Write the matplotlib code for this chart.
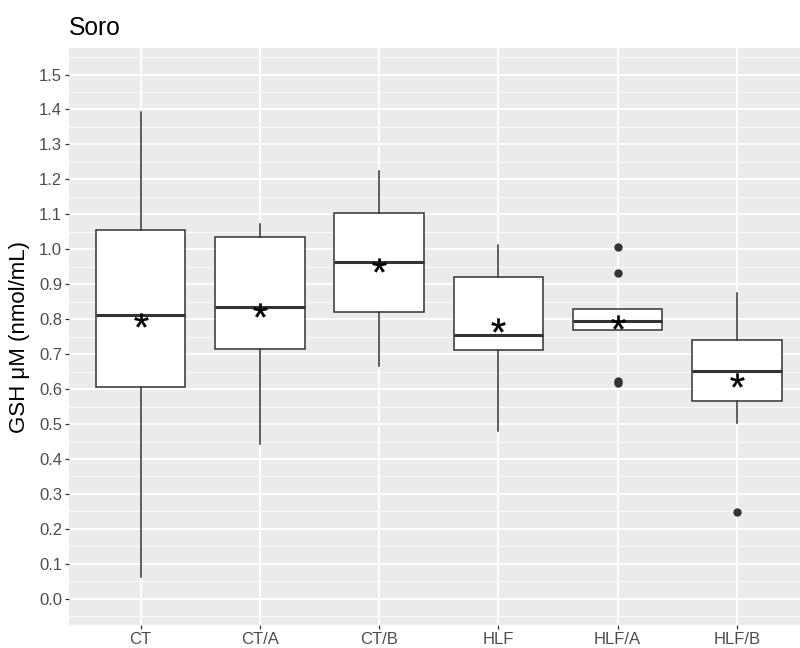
import matplotlib
matplotlib.use("Agg")
import matplotlib.pyplot as plt
from matplotlib.ticker import MultipleLocator

plt.rcParams['font.family'] = ['Liberation Sans', 'DejaVu Sans']
plt.rcParams['mathtext.fontset'] = 'custom'
plt.rcParams['mathtext.rm'] = 'Liberation Sans'

# box statistics
groups = ['CT', 'CT/A', 'CT/B', 'HLF', 'HLF/A', 'HLF/B']
whislo = [0.061, 0.443, 0.667, 0.481, 0.769, 0.504]
q1 = [0.605, 0.716, 0.821, 0.711, 0.769, 0.567]
med = [0.811, 0.835, 0.964, 0.755, 0.794, 0.651]
q3 = [1.054, 1.034, 1.105, 0.921, 0.830, 0.741]
whishi = [1.392, 1.072, 1.224, 1.011, 0.830, 0.876]
means = [0.799, 0.827, 0.954, 0.784, 0.791, 0.627]
fliers = [[], [], [], [], [1.006, 0.933, 0.624, 0.618], [0.248]]

stats = []
for i, g in enumerate(groups):
    stats.append(dict(label=g, whislo=whislo[i], q1=q1[i], med=med[i],
                      q3=q3[i], whishi=whishi[i], mean=means[i],
                      fliers=fliers[i]))

fig = plt.figure(figsize=(8, 6.48), dpi=100)
W, H = 800, 648
left, right, top, bottom = 69, 808.5, 48.3, 625
ax = fig.add_axes([left / W, 1 - bottom / H, (right - left) / W, (bottom - top) / H])
ax.set_facecolor('#EBEBEB')

edge = '#333333'
ax.bxp(stats, positions=range(1, 7), widths=0.75, patch_artist=True,
       showmeans=True, showcaps=False, zorder=3,
       boxprops=dict(facecolor='white', edgecolor=edge, linewidth=1.1),
       medianprops=dict(color=edge, linewidth=2.2),
       whiskerprops=dict(color=edge, linewidth=1.1),
       flierprops=dict(marker='o', markerfacecolor=edge, markeredgecolor=edge,
                       markersize=5),
       meanprops=dict(marker=r'$\mathrm{*}$', markerfacecolor='black',
                      markeredgecolor='black', markeredgewidth=0.3,
                      markersize=10))

ax.set_xlim(0.4, 6.6)
ax.set_ylim(-0.075, 1.575)
ax.yaxis.set_major_locator(MultipleLocator(0.1))
ax.yaxis.set_minor_locator(MultipleLocator(0.05))
ax.set_yticklabels([f'{v:.1f}' for v in ax.get_yticks()])
ax.set_xticks(range(1, 7))
ax.set_xticklabels(groups)

ax.grid(which='major', color='white', linewidth=1.3, zorder=0)
ax.grid(which='minor', axis='y', color='white', linewidth=0.6, zorder=0)
ax.set_axisbelow(True)
for s in ax.spines.values():
    s.set_visible(False)
ax.tick_params(which='major', length=3, width=0.9, color=edge,
               labelcolor='#4D4D4D', labelsize=12, pad=2)
ax.tick_params(which='minor', length=0)

fig.text(20 / W, 1 - (top + bottom) / 2 / H, 'GSH μM (nmol/mL)', rotation=90,
         ha='center', va='center', fontsize=16, color='black')
fig.text(left / W, 1 - 35 / H, 'Soro', ha='left', va='baseline',
         fontsize=17.7, color='black')

fig.savefig('out.png', dpi=100)
